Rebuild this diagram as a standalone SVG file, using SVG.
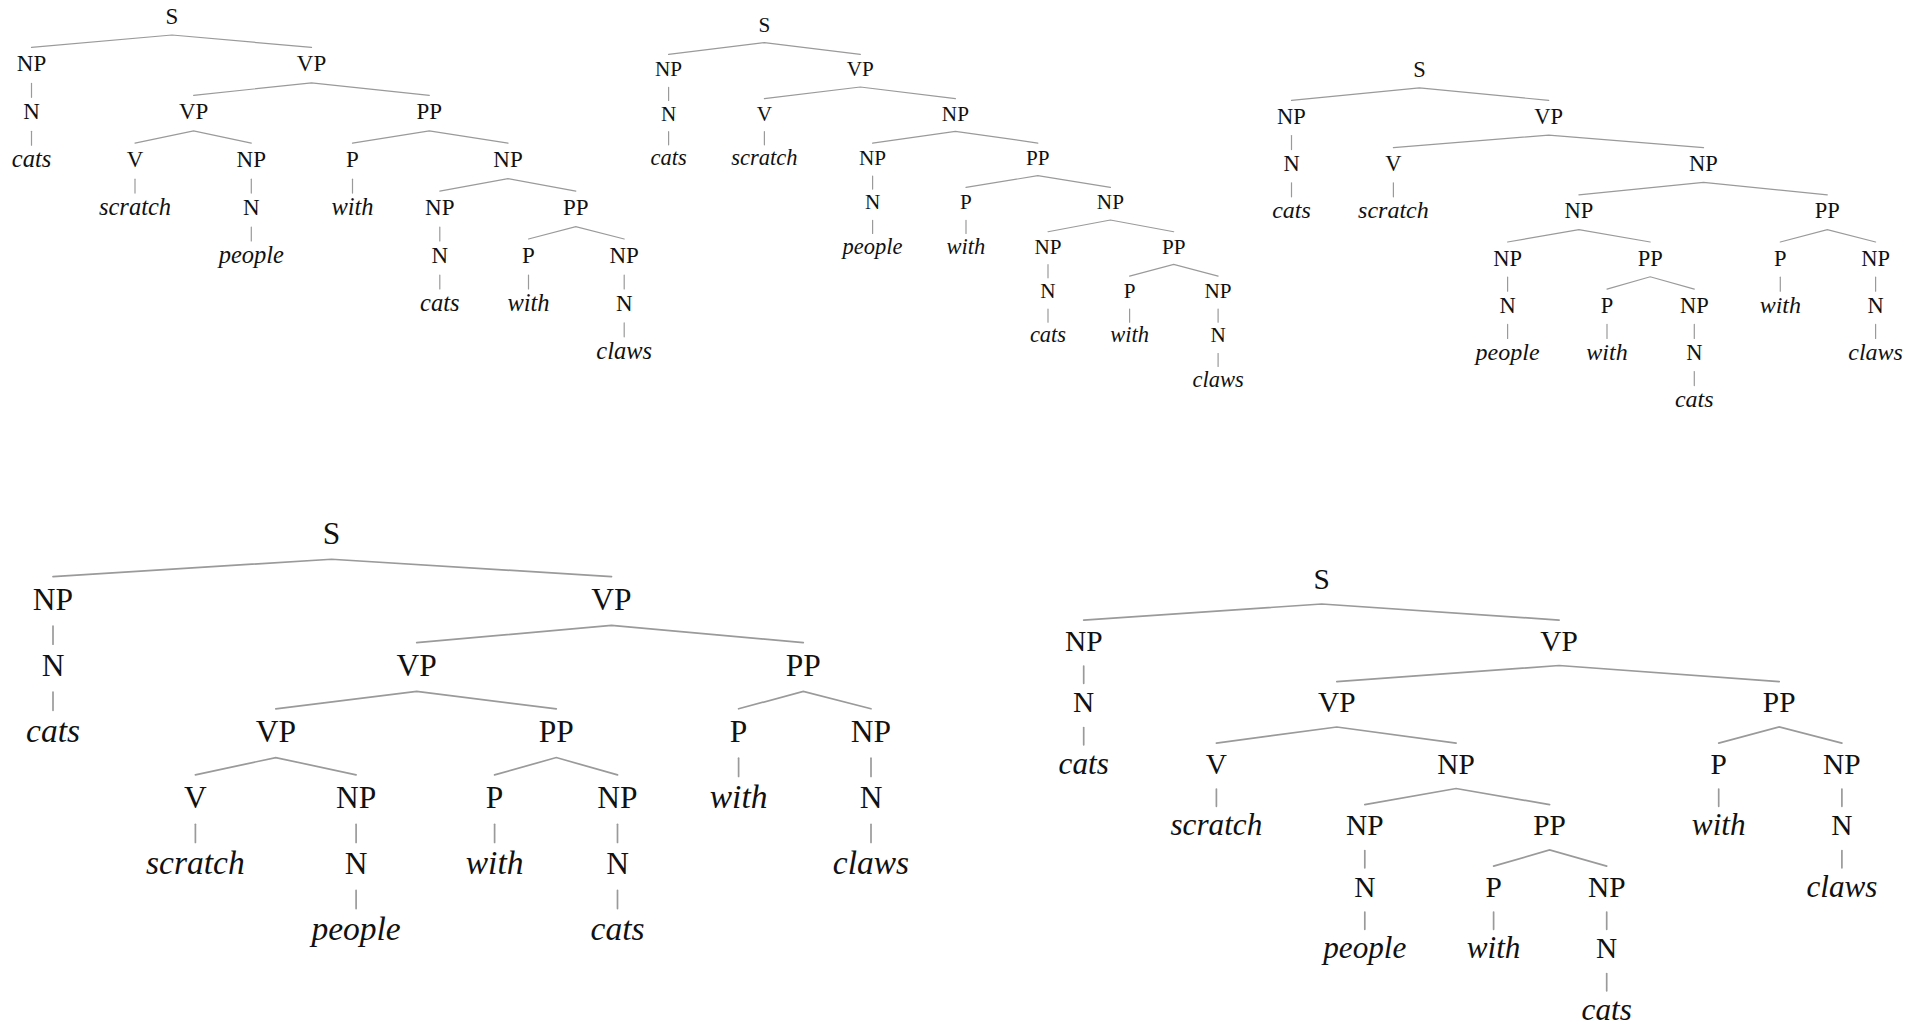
<svg xmlns="http://www.w3.org/2000/svg" width="1918" height="1023" viewBox="0 0 1918 1023">
<style>
text{font-family:"Liberation Serif","Times New Roman",serif;fill:#111;text-anchor:middle}
.w{font-style:italic}
.t1 text{font-size:23px}.t1 .w{font-size:24.5px}
.t2 text{font-size:21.2px}.t2 .w{font-size:22.5px}
.t3 text{font-size:22.5px}.t3 .w{font-size:24px}
.t4 text{font-size:31.5px}.t4 .w{font-size:33.5px}
.t5 text{font-size:29.4px}.t5 .w{font-size:31.2px}
.e line,.e polyline{stroke:#9a9a9a;fill:none;stroke-linecap:round}
.es line,.es polyline{stroke-width:1.2}
.eb line,.eb polyline{stroke-width:1.7}
</style>
<rect width="1918" height="1023" fill="#fff"/>
<g id="connectors" class="e">
<g class="es" id="c1">
<polyline points="31.5,47.4 172,35 311.5,47.4"/>
<line x1="31.5" y1="83.4" x2="31.5" y2="97.3"/>
<polyline points="193.6,95.3 311.5,82.9 429.3,95.3"/>
<line x1="31.5" y1="131.3" x2="31.5" y2="145.2"/>
<polyline points="135,143.2 193.6,130.8 251.3,143.2"/>
<polyline points="352.5,143.2 429.3,130.8 508,143.2"/>
<line x1="135" y1="179.2" x2="135" y2="193.1"/>
<line x1="251.3" y1="179.2" x2="251.3" y2="193.1"/>
<line x1="352.5" y1="179.2" x2="352.5" y2="193.1"/>
<polyline points="439.8,191.1 508,178.7 575.8,191.1"/>
<line x1="251.3" y1="227.1" x2="251.3" y2="241"/>
<line x1="439.8" y1="227.1" x2="439.8" y2="241"/>
<polyline points="528.5,239 575.8,226.6 624.2,239"/>
<line x1="439.8" y1="275" x2="439.8" y2="288.9"/>
<line x1="528.5" y1="275" x2="528.5" y2="288.9"/>
<line x1="624.2" y1="275" x2="624.2" y2="288.9"/>
<line x1="624.2" y1="322.9" x2="624.2" y2="336.8"/>
</g>
<g class="es" id="c2">
<polyline points="668.6,54.35 764.4,42.6 860.3,54.35"/>
<line x1="668.6" y1="87.4" x2="668.6" y2="100.4"/>
<polyline points="764.4,98.7 860.3,87 955.4,98.7"/>
<line x1="668.6" y1="131.7" x2="668.6" y2="144.8"/>
<line x1="764.4" y1="131.7" x2="764.4" y2="144.8"/>
<polyline points="872.6,143.05 955.4,131.3 1037.8,143.05"/>
<line x1="872.6" y1="176" x2="872.6" y2="189.1"/>
<polyline points="966,187.4 1037.8,175.7 1110.4,187.4"/>
<line x1="872.6" y1="220.4" x2="872.6" y2="233.5"/>
<line x1="966" y1="220.4" x2="966" y2="233.5"/>
<polyline points="1048,231.75 1110.4,220 1173.7,231.75"/>
<line x1="1048" y1="264.7" x2="1048" y2="277.8"/>
<polyline points="1129.6,276.1 1173.7,264.4 1218.1,276.1"/>
<line x1="1048" y1="309.1" x2="1048" y2="322.2"/>
<line x1="1129.6" y1="309.1" x2="1129.6" y2="322.2"/>
<line x1="1218.1" y1="309.1" x2="1218.1" y2="322.2"/>
<line x1="1218.1" y1="353.5" x2="1218.1" y2="366.5"/>
</g>
<g class="es" id="c3">
<polyline points="1291.5,100.4 1419.4,87.95 1548.7,100.4"/>
<line x1="1291.5" y1="135.6" x2="1291.5" y2="149.6"/>
<polyline points="1393.4,147.6 1548.7,135.15 1703.5,147.6"/>
<line x1="1291.5" y1="182.8" x2="1291.5" y2="196.8"/>
<line x1="1393.4" y1="182.8" x2="1393.4" y2="196.8"/>
<polyline points="1578.9,194.8 1703.5,182.35 1827.3,194.8"/>
<polyline points="1507.6,242 1578.9,229.55 1650.2,242"/>
<polyline points="1780.3,242 1827.3,229.55 1875.6,242"/>
<line x1="1507.6" y1="277.2" x2="1507.6" y2="291.2"/>
<polyline points="1607,289.2 1650.2,276.75 1694.3,289.2"/>
<line x1="1780.3" y1="277.2" x2="1780.3" y2="291.2"/>
<line x1="1875.6" y1="277.2" x2="1875.6" y2="291.2"/>
<line x1="1507.6" y1="324.4" x2="1507.6" y2="338.4"/>
<line x1="1607" y1="324.4" x2="1607" y2="338.4"/>
<line x1="1694.3" y1="324.4" x2="1694.3" y2="338.4"/>
<line x1="1875.6" y1="324.4" x2="1875.6" y2="338.4"/>
<line x1="1694.3" y1="371.6" x2="1694.3" y2="385.6"/>
</g>
<g class="eb" id="c4">
<polyline points="53,576.6 331.5,559.25 611.5,576.6"/>
<line x1="53" y1="626" x2="53" y2="644.2"/>
<polyline points="416.7,642.7 611.5,625.35 803.3,642.7"/>
<line x1="53" y1="692.1" x2="53" y2="710.3"/>
<polyline points="275.8,708.8 416.7,691.45 556.3,708.8"/>
<polyline points="738.6,708.8 803.3,691.45 871,708.8"/>
<polyline points="195.4,774.9 275.8,757.55 356.1,774.9"/>
<polyline points="494.6,774.9 556.3,757.55 617.5,774.9"/>
<line x1="738.6" y1="758.2" x2="738.6" y2="776.4"/>
<line x1="871" y1="758.2" x2="871" y2="776.4"/>
<line x1="195.4" y1="824.3" x2="195.4" y2="842.5"/>
<line x1="356.1" y1="824.3" x2="356.1" y2="842.5"/>
<line x1="494.6" y1="824.3" x2="494.6" y2="842.5"/>
<line x1="617.5" y1="824.3" x2="617.5" y2="842.5"/>
<line x1="871" y1="824.3" x2="871" y2="842.5"/>
<line x1="356.1" y1="890.4" x2="356.1" y2="908.6"/>
<line x1="617.5" y1="890.4" x2="617.5" y2="908.6"/>
</g>
<g class="eb" id="c5">
<polyline points="1083.7,620.1 1321.7,604 1559.1,620.1"/>
<line x1="1083.7" y1="666.1" x2="1083.7" y2="683.3"/>
<polyline points="1336.8,681.6 1559.1,665.5 1779.2,681.6"/>
<line x1="1083.7" y1="727.6" x2="1083.7" y2="744.8"/>
<polyline points="1216.4,743.1 1336.8,727 1456.1,743.1"/>
<polyline points="1718.7,743.1 1779.2,727 1841.9,743.1"/>
<line x1="1216.4" y1="789.1" x2="1216.4" y2="806.3"/>
<polyline points="1364.8,804.6 1456.1,788.5 1549.6,804.6"/>
<line x1="1718.7" y1="789.1" x2="1718.7" y2="806.3"/>
<line x1="1841.9" y1="789.1" x2="1841.9" y2="806.3"/>
<line x1="1364.8" y1="850.6" x2="1364.8" y2="867.8"/>
<polyline points="1493.6,866.1 1549.6,850 1606.7,866.1"/>
<line x1="1841.9" y1="850.6" x2="1841.9" y2="867.8"/>
<line x1="1364.8" y1="912.1" x2="1364.8" y2="929.3"/>
<line x1="1493.6" y1="912.1" x2="1493.6" y2="929.3"/>
<line x1="1606.7" y1="912.1" x2="1606.7" y2="929.3"/>
<line x1="1606.7" y1="973.6" x2="1606.7" y2="990.8"/>
</g>
</g>
<g id="tree1" class="t1">
<g id="t1-s"><text x="172" y="23.5">S</text></g>
<g id="t1-np1"><text x="31.5" y="71.4">NP</text></g>
<g id="t1-vp1"><text x="311.5" y="71.4">VP</text></g>
<g id="t1-n1"><text x="31.5" y="119.3">N</text></g>
<g id="t1-vp2"><text x="193.6" y="119.3">VP</text></g>
<g id="t1-pp1"><text x="429.3" y="119.3">PP</text></g>
<g id="t1-cats1"><text class="w" x="31.5" y="167.2">cats</text></g>
<g id="t1-v"><text x="135" y="167.2">V</text></g>
<g id="t1-np2"><text x="251.3" y="167.2">NP</text></g>
<g id="t1-p1"><text x="352.5" y="167.2">P</text></g>
<g id="t1-np3"><text x="508" y="167.2">NP</text></g>
<g id="t1-scratch"><text class="w" x="135" y="215.1">scratch</text></g>
<g id="t1-n2"><text x="251.3" y="215.1">N</text></g>
<g id="t1-with1"><text class="w" x="352.5" y="215.1">with</text></g>
<g id="t1-np4"><text x="439.8" y="215.1">NP</text></g>
<g id="t1-pp2"><text x="575.8" y="215.1">PP</text></g>
<g id="t1-people"><text class="w" x="251.3" y="263">people</text></g>
<g id="t1-n3"><text x="439.8" y="263">N</text></g>
<g id="t1-p2"><text x="528.5" y="263">P</text></g>
<g id="t1-np5"><text x="624.2" y="263">NP</text></g>
<g id="t1-cats2"><text class="w" x="439.8" y="310.9">cats</text></g>
<g id="t1-with2"><text class="w" x="528.5" y="310.9">with</text></g>
<g id="t1-n4"><text x="624.2" y="310.9">N</text></g>
<g id="t1-claws"><text class="w" x="624.2" y="358.8">claws</text></g>
</g>
<g id="tree2" class="t2">
<g id="t2-s"><text x="764.4" y="32">S</text></g>
<g id="t2-np1"><text x="668.6" y="76.35">NP</text></g>
<g id="t2-vp1"><text x="860.3" y="76.35">VP</text></g>
<g id="t2-n1"><text x="668.6" y="120.7">N</text></g>
<g id="t2-v"><text x="764.4" y="120.7">V</text></g>
<g id="t2-np2"><text x="955.4" y="120.7">NP</text></g>
<g id="t2-cats1"><text class="w" x="668.6" y="165.05">cats</text></g>
<g id="t2-scratch"><text class="w" x="764.4" y="165.05">scratch</text></g>
<g id="t2-np3"><text x="872.6" y="165.05">NP</text></g>
<g id="t2-pp1"><text x="1037.8" y="165.05">PP</text></g>
<g id="t2-n2"><text x="872.6" y="209.4">N</text></g>
<g id="t2-p1"><text x="966" y="209.4">P</text></g>
<g id="t2-np4"><text x="1110.4" y="209.4">NP</text></g>
<g id="t2-people"><text class="w" x="872.6" y="253.75">people</text></g>
<g id="t2-with1"><text class="w" x="966" y="253.75">with</text></g>
<g id="t2-np5"><text x="1048" y="253.75">NP</text></g>
<g id="t2-pp2"><text x="1173.7" y="253.75">PP</text></g>
<g id="t2-n3"><text x="1048" y="298.1">N</text></g>
<g id="t2-p2"><text x="1129.6" y="298.1">P</text></g>
<g id="t2-np6"><text x="1218.1" y="298.1">NP</text></g>
<g id="t2-cats2"><text class="w" x="1048" y="342.45">cats</text></g>
<g id="t2-with2"><text class="w" x="1129.6" y="342.45">with</text></g>
<g id="t2-n4"><text x="1218.1" y="342.45">N</text></g>
<g id="t2-claws"><text class="w" x="1218.1" y="386.8">claws</text></g>
</g>
<g id="tree3" class="t3">
<g id="t3-s"><text x="1419.4" y="76.7">S</text></g>
<g id="t3-np1"><text x="1291.5" y="123.9">NP</text></g>
<g id="t3-vp1"><text x="1548.7" y="123.9">VP</text></g>
<g id="t3-n1"><text x="1291.5" y="171.1">N</text></g>
<g id="t3-v"><text x="1393.4" y="171.1">V</text></g>
<g id="t3-np2"><text x="1703.5" y="171.1">NP</text></g>
<g id="t3-cats1"><text class="w" x="1291.5" y="218.3">cats</text></g>
<g id="t3-scratch"><text class="w" x="1393.4" y="218.3">scratch</text></g>
<g id="t3-np3"><text x="1578.9" y="218.3">NP</text></g>
<g id="t3-pp1"><text x="1827.3" y="218.3">PP</text></g>
<g id="t3-np4"><text x="1507.6" y="265.5">NP</text></g>
<g id="t3-pp2"><text x="1650.2" y="265.5">PP</text></g>
<g id="t3-p1"><text x="1780.3" y="265.5">P</text></g>
<g id="t3-np5"><text x="1875.6" y="265.5">NP</text></g>
<g id="t3-n2"><text x="1507.6" y="312.7">N</text></g>
<g id="t3-p2"><text x="1607" y="312.7">P</text></g>
<g id="t3-np6"><text x="1694.3" y="312.7">NP</text></g>
<g id="t3-with1"><text class="w" x="1780.3" y="312.7">with</text></g>
<g id="t3-n3"><text x="1875.6" y="312.7">N</text></g>
<g id="t3-people"><text class="w" x="1507.6" y="359.9">people</text></g>
<g id="t3-with2"><text class="w" x="1607" y="359.9">with</text></g>
<g id="t3-n4"><text x="1694.3" y="359.9">N</text></g>
<g id="t3-claws"><text class="w" x="1875.6" y="359.9">claws</text></g>
<g id="t3-cats2"><text class="w" x="1694.3" y="407.1">cats</text></g>
</g>
<g id="tree4" class="t4">
<g id="t4-s"><text x="331.5" y="543.5">S</text></g>
<g id="t4-np1"><text x="53" y="609.6">NP</text></g>
<g id="t4-vp1"><text x="611.5" y="609.6">VP</text></g>
<g id="t4-n1"><text x="53" y="675.7">N</text></g>
<g id="t4-vp2"><text x="416.7" y="675.7">VP</text></g>
<g id="t4-pp1"><text x="803.3" y="675.7">PP</text></g>
<g id="t4-cats1"><text class="w" x="53" y="741.8">cats</text></g>
<g id="t4-vp3"><text x="275.8" y="741.8">VP</text></g>
<g id="t4-pp2"><text x="556.3" y="741.8">PP</text></g>
<g id="t4-p1"><text x="738.6" y="741.8">P</text></g>
<g id="t4-np2"><text x="871" y="741.8">NP</text></g>
<g id="t4-v"><text x="195.4" y="807.9">V</text></g>
<g id="t4-np3"><text x="356.1" y="807.9">NP</text></g>
<g id="t4-p2"><text x="494.6" y="807.9">P</text></g>
<g id="t4-np4"><text x="617.5" y="807.9">NP</text></g>
<g id="t4-with1"><text class="w" x="738.6" y="807.9">with</text></g>
<g id="t4-n2"><text x="871" y="807.9">N</text></g>
<g id="t4-scratch"><text class="w" x="195.4" y="874">scratch</text></g>
<g id="t4-n3"><text x="356.1" y="874">N</text></g>
<g id="t4-with2"><text class="w" x="494.6" y="874">with</text></g>
<g id="t4-n4"><text x="617.5" y="874">N</text></g>
<g id="t4-claws"><text class="w" x="871" y="874">claws</text></g>
<g id="t4-people"><text class="w" x="356.1" y="940.1">people</text></g>
<g id="t4-cats2"><text class="w" x="617.5" y="940.1">cats</text></g>
</g>
<g id="tree5" class="t5">
<g id="t5-s"><text x="1321.7" y="589.3">S</text></g>
<g id="t5-np1"><text x="1083.7" y="650.8">NP</text></g>
<g id="t5-vp1"><text x="1559.1" y="650.8">VP</text></g>
<g id="t5-n1"><text x="1083.7" y="712.3">N</text></g>
<g id="t5-vp2"><text x="1336.8" y="712.3">VP</text></g>
<g id="t5-pp1"><text x="1779.2" y="712.3">PP</text></g>
<g id="t5-cats1"><text class="w" x="1083.7" y="773.8">cats</text></g>
<g id="t5-v"><text x="1216.4" y="773.8">V</text></g>
<g id="t5-np2"><text x="1456.1" y="773.8">NP</text></g>
<g id="t5-p1"><text x="1718.7" y="773.8">P</text></g>
<g id="t5-np3"><text x="1841.9" y="773.8">NP</text></g>
<g id="t5-scratch"><text class="w" x="1216.4" y="835.3">scratch</text></g>
<g id="t5-np4"><text x="1364.8" y="835.3">NP</text></g>
<g id="t5-pp2"><text x="1549.6" y="835.3">PP</text></g>
<g id="t5-with1"><text class="w" x="1718.7" y="835.3">with</text></g>
<g id="t5-n2"><text x="1841.9" y="835.3">N</text></g>
<g id="t5-n3"><text x="1364.8" y="896.8">N</text></g>
<g id="t5-p2"><text x="1493.6" y="896.8">P</text></g>
<g id="t5-np5"><text x="1606.7" y="896.8">NP</text></g>
<g id="t5-claws"><text class="w" x="1841.9" y="896.8">claws</text></g>
<g id="t5-people"><text class="w" x="1364.8" y="958.3">people</text></g>
<g id="t5-with2"><text class="w" x="1493.6" y="958.3">with</text></g>
<g id="t5-n4"><text x="1606.7" y="958.3">N</text></g>
<g id="t5-cats2"><text class="w" x="1606.7" y="1019.8">cats</text></g>
</g>
</svg>
